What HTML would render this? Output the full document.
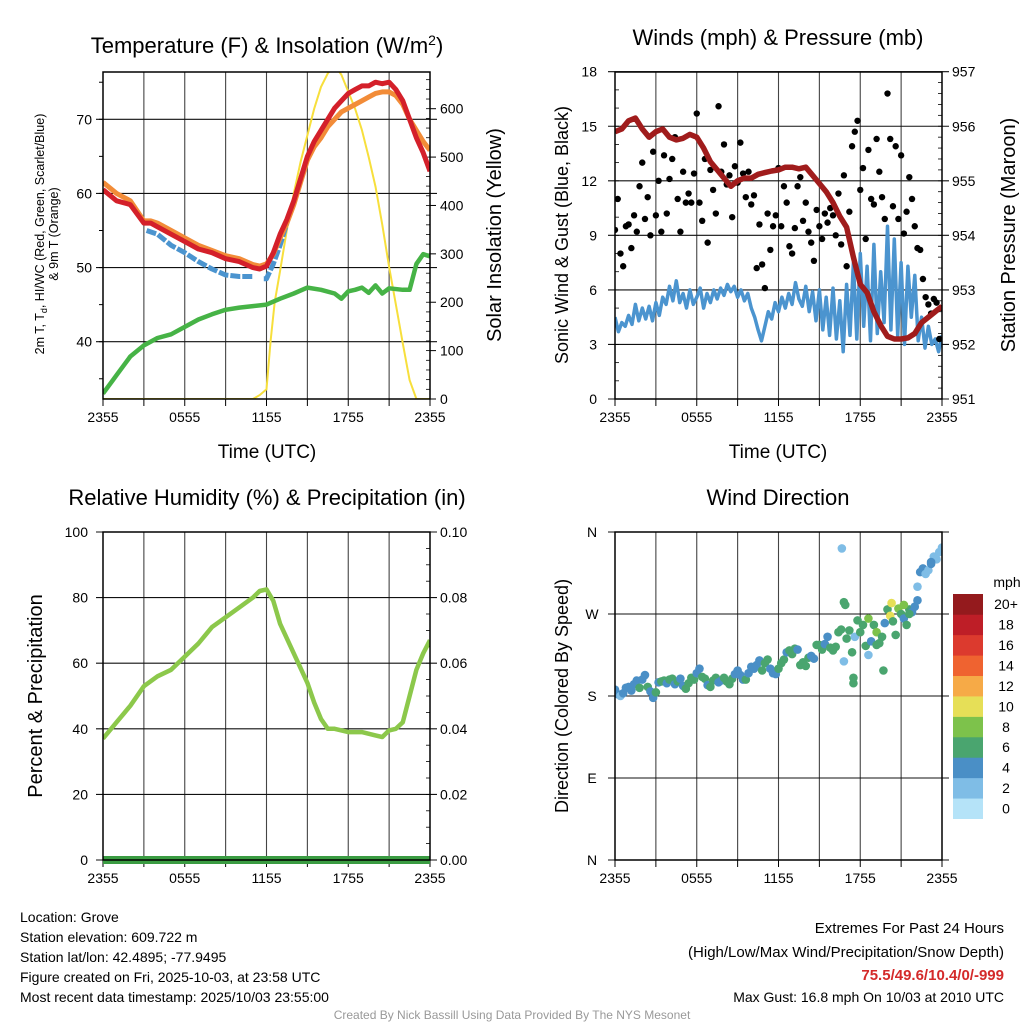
<!DOCTYPE html>
<html><head><meta charset="utf-8"><style>
body{margin:0;background:#fff}
svg text{font-family:"Liberation Sans",Arial,sans-serif}
</style></head><body>
<svg id="chart" width="1024" height="1024" viewBox="0 0 1024 1024" xmlns="http://www.w3.org/2000/svg">
<defs>
<clipPath id="c1"><rect x="103" y="72" width="327" height="327"/></clipPath>
<clipPath id="c2"><rect x="615" y="72" width="327" height="327"/></clipPath>
<clipPath id="c3"><rect x="103" y="532" width="327" height="328"/></clipPath>
<clipPath id="c4"><rect x="615" y="532" width="327" height="328"/></clipPath>
</defs>
</svg>
<script>
// ---------- DATA ----------
const xTickLabels = ["2355","0555","1155","1755","2355"];
const tempTimes = [0,1,2,3,3.5,4,5,6,7,8,9,10,11,11.5,12,12.5,13,13.5,14,14.5,15,15.5,16,16.5,17,17.5,18,18.5,19,19.5,20,20.5,21,21.5,22,22.5,23,23.5,24];
const tempRed = [60.5,59,58.5,56,56,55.5,54.5,53.5,52.5,52,51.2,50.8,50,49.8,50.2,52,54.5,56.5,59,62,65,67,68.5,70,71.5,72.5,73.5,74,74.5,74.5,75,74.8,75,74,72.5,70,67.5,65.5,63];
const tempOrange = [61.5,60,59,56.3,56.3,56,55,54,53,52.3,51.6,51.2,50.4,50.2,50.5,51.8,54,56,58.5,61.5,64.5,66.3,67.5,69,70,71,71.5,72,72.5,73,73.5,73.7,73.7,73.2,72,70,68.5,67,65.8];
const hiTimes = [3.2,4,5,6,7,8,9,10,11,null,11.8,12,12.5,13,13.5];
const hiVals = [55,54.5,53,52,50.8,49.8,49,48.8,48.8,null,48.5,48.5,50.5,53,56];
const dewTimes = [0,1,2,3,4,5,6,7,8,9,10,11,12,13,14,15,16,17,17.5,18,18.5,19,19.5,20,20.5,21,22,22.5,23,23.5,24];
const dewVals = [33,35.5,38,39.5,40.5,41,42,43,43.7,44.3,44.6,44.8,45,45.8,46.5,47.3,47,46.5,45.8,46.8,47,47.3,46.6,47.6,46.5,47.2,47,47,50.5,51.8,51.5];
const solarTimes = [0,11,11.5,12,12.3,12.6,13,13.5,14,14.5,15,15.5,16,16.5,17,17.5,18,18.5,19,19.5,20,20.5,21,21.5,22,22.5,23,24];
const solarVals = [0,0,8,20,120,200,265,350,425,490,545,600,645,673,690,670,635,600,556,500,439,360,273,195,115,39,0,0];
const tempTicks = [40,50,60,70];
const solarTicks = [0,100,200,300,400,500,600];

const windVals = [4.5,3.7,4.2,4.0,4.6,4.1,5.2,4.3,5.0,4.4,
5.1,4.3,5.3,4.6,5.6,5.2,6.2,5.4,6.5,5.3,
5.8,5.0,6.0,5.2,5.6,6.1,5.0,5.8,5.3,6.0,
5.5,6.1,5.7,6.3,5.9,6.2,5.6,6.0,5.4,5.8,
5.0,4.5,3.8,3.2,4.0,4.8,4.4,5.3,4.8,5.6,
5.0,5.8,5.2,6.4,5.5,5.1,6.2,4.8,5.9,4.3,
6.0,3.8,5.6,3.5,6.1,3.3,5.4,2.6,6.3,3.5,
7.5,3.3,8.0,4.0,7.3,3.2,8.5,3.6,7.0,4.2,
9.5,3.8,8.8,3.5,7.5,3.0,7.3,4.5,6.8,3.2,
4.5,2.8,4.0,3.0,3.3,2.6,3.5];
const gustVals = [9.3,11,8,7.3,9.5,9.6,8.3,10.1,9.2,11.7,
13,9.9,11.1,9.0,13.6,10.1,12.0,9.2,13.4,10.2,
12.1,13.2,14.4,11.0,9.2,12.5,10.8,11.3,10.8,12.4,
15.7,10.8,9.8,13.2,8.6,12.6,11.5,10.2,16.1,12.5,
14.0,11.8,12.3,10.0,12.8,11.9,14.1,12.4,11.1,12.5,
10.7,11.2,7.2,9.6,7.4,6.1,10.2,8.2,9.5,10.1,
12.7,9.5,11.7,10.8,8.4,8.0,9.4,11.7,12.2,9.8,
10.8,9.2,8.6,7.6,10.4,9.5,8.8,10.2,9.7,10.5,
10.1,9.0,11.3,8.5,12.3,7.3,10.3,13.9,14.7,15.3,
11.5,12.7,8.8,13.7,11.0,10.7,14.3,12.5,11.1,9.9,
16.8,14.3,10.6,13.9,9.9,13.4,9.1,10.3,12.2,11.0,
9.5,8.3,8.2,6.6,5.6,5.2,4.7,5.5,5.3,3.3,5.0];
const presTimes = [0,0.5,1,1.5,2,2.5,3,3.5,4,4.5,5,5.5,6,6.5,7,7.5,8,8.5,9,9.5,10,10.5,11,11.5,12,12.5,13,13.5,14,14.5,15,15.5,16,16.5,17,17.5,18,18.5,19,19.5,20,20.5,21,21.5,22,22.5,23,23.5,24];
const presVals = [955.9,955.95,956.1,956.15,955.95,955.8,955.9,955.95,955.8,955.75,955.78,955.85,955.8,955.6,955.35,955.2,955.05,954.9,955.0,955.05,955.05,955.12,955.15,955.18,955.2,955.25,955.25,955.22,955.25,955.1,954.95,954.8,954.6,954.35,954.15,953.6,953.1,952.95,952.6,952.35,952.15,952.1,952.1,952.12,952.2,952.4,952.5,952.6,952.7];
const windTicks = [0,3,6,9,12,15,18];
const presTicks = [951,952,953,954,955,956,957];

const rhTimes = [0,1,2,3,4,5,6,7,8,9,10,11,11.5,12,12.5,13,14,15,15.5,16,16.5,17,18,19,20,20.5,21,21.5,22,22.5,23,23.5,24];
const rhVals = [37,42,47,53,56,58,62,66,71,74,77,80,82,82.5,79,72,63,54,48,43,40,40,39,39,38,37.5,39.5,40,42,50,58,63,67];
const precipVals = [0,0];
const rhTicks = [0,20,40,60,80,100];
const precipTicks = ["0.00","0.02","0.04","0.06","0.08","0.10"];

const dirDeg = [187,182,180,183,189,190,186,193,197,189,
198,203,190,185,178,184,195,196,197,194,
198,199,193,196,199,191,188,194,200,198,
205,210,201,199,192,190,197,200,195,197,
200,196,193,199,204,208,203,198,198,205,
212,210,214,219,208,216,220,210,205,204,
210,216,220,228,230,226,232,231,214,217,
213,222,224,221,236,236,231,237,245,233,
230,234,250,253,218,243,252,228,245,263,
250,258,235,265,240,258,250,238,245,260,
275,268,262,247,276,270,265,258,275,272,
278,285,316,320,314,318,325,333,330,338,343];
const dirSpeed = [4,4,3,4,4,4,4,5,4,6,
4,4,6,4,4,6,4,6,6,4,
6,6,4,6,4,4,6,6,6,6,
4,4,6,6,4,6,6,6,4,4,
6,6,6,6,4,4,4,4,6,4,
4,4,4,4,6,6,6,4,4,4,
6,6,6,4,6,6,6,4,6,6,
6,6,4,4,6,6,6,4,4,6,
6,6,6,6,3,6,6,6,3,6,
6,6,6,8,4,6,8,6,6,4,
6,10,6,6,8,6,4,6,6,4,
4,4,4,4,3,3,4,3,3,3,3];
const extraTimes = [16.65,16.8,16.9,17.5,17.5,18.6,19.2,19.7,20.3,21.2,21.6,22.2,23.2];
const extraDeg = [342,283,280,194,200,225,236,208,282,280,270,300,327];
const extraSpeed = [2,6,6,6,6,3,6,6,10,8,6,3,4];
const dirTicks = ["N","E","S","W","N"];
const cbLabels = ["0","2","4","6","8","10","12","14","16","18","20+"];
const cbColors = ["#b5e3f8","#7fbde6","#4a8fc6","#4aa56f","#7dc24b","#e6df57","#f6aa47","#ef6330","#dc3a2e","#be1e27","#941a1d"];

// ---------- HELPERS ----------
const svg = document.getElementById('chart');
const NS = "http://www.w3.org/2000/svg";
function el(tag, attrs, parent){ const e=document.createElementNS(NS,tag); for(const k in attrs) e.setAttribute(k,attrs[k]); (parent||svg).appendChild(e); return e; }
function lin(d0,d1,r0,r1){ return v => r0 + (v-d0)*(r1-r0)/(d1-d0); }
function txt(x,y,s,size,anchor,extra){ const t=el('text',Object.assign({x:x,y:y,'font-size':size,'text-anchor':anchor||'middle',fill:'#000'},extra||{})); t.textContent=s; return t; }
function pathFrom(xs,ys,xf,yf){ let d="",pen=false; for(let i=0;i<xs.length;i++){ if(xs[i]===null||ys[i]===null){pen=false;continue;} d+=(pen?"L":"M")+xf(xs[i]).toFixed(1)+","+yf(ys[i]).toFixed(1); pen=true;} return d; }

function panel(name,X0,X1,Y0,Y1){
  const g = el('g',{});
  
  
  const xs = lin(0,24,X0,X1);
  for(let h=3;h<24;h+=3){ const l=el('line',{x1:xs(h),x2:xs(h),y1:Y0,y2:Y1,stroke:'#444','stroke-width':1.1},g);   }
  for(let h=0;h<=24;h+=3){ el('line',{x1:xs(h),x2:xs(h),y1:Y1,y2:Y1+7,stroke:'#000','stroke-width':1},g); }
  xTickLabels.forEach((s,i)=>{ const t=txt(xs(i*6),Y1+23,s,14,'middle',{}); g.appendChild(t);   });
  return {g,xs};
}
function hgrid(g,X0,X1,y){ const l=el('line',{x1:X0-7,x2:X1+7,y1:y,y2:y,stroke:'#111','stroke-width':1.1},g);   }
function frame(g,X0,X1,Y0,Y1){ const r=el('rect',{x:X0,y:Y0,width:X1-X0,height:Y1-Y0,fill:'none',stroke:'#000','stroke-width':1.5},g);   }

// ---------- PANEL 1 ----------
{
  const X0=103,X1=430,Y0=72,Y1=399;
  const {g,xs} = panel('temperature-panel',X0,X1,Y0,Y1);
  const yT = lin(40,70,341.7,119.3);
  const yS = lin(0,600,399,108.7);
  tempTicks.forEach(v=>{ hgrid(g,X0,X1,yT(v)); const t=txt(92,yT(v)+5,String(v),14,'end');   });
  for(let v=35;v<=75;v+=5) el('line',{x1:X0-4,x2:X0,y1:yT(v),y2:yT(v),stroke:'#000'},g);
  solarTicks.forEach(v=>{ el('line',{x1:X1,x2:X1+6,y1:yS(v),y2:yS(v),stroke:'#000'},g); const t=txt(440,yS(v)+5,String(v),14,'start');   });
  for(let v=20;v<=660;v+=20) el('line',{x1:X1-4,x2:X1,y1:yS(v),y2:yS(v),stroke:'#000','stroke-width':0.8},g);
  const cg = el('g',{'clip-path':'url(#c1)'},g);
  const sol = el('path',{d:pathFrom(solarTimes,solarVals,xs,yS),fill:'none',stroke:'#f7df3c','stroke-width':2},cg);
   
  const dew = el('path',{d:pathFrom(dewTimes,dewVals,xs,yT),fill:'none',stroke:'#46b346','stroke-width':4.5,'stroke-linejoin':'round'},cg);
   
  const hi = el('path',{d:pathFrom(hiTimes,hiVals,xs,yT),fill:'none',stroke:'#4b94cf','stroke-width':5,'stroke-dasharray':'10 2','stroke-linejoin':'round'},cg);
   
  const or = el('path',{d:pathFrom(tempTimes,tempOrange,xs,yT),fill:'none',stroke:'#f28c38','stroke-width':5,'stroke-linejoin':'round'},cg);
   
  const rd = el('path',{d:pathFrom(tempTimes,tempRed,xs,yT),fill:'none',stroke:'#d4202a','stroke-width':5,'stroke-linejoin':'round'},cg);
   
  frame(g,X0,X1,Y0,Y1);
  const t1=txt(267,53,'',22,'middle'); t1.innerHTML='Temperature (F) &amp; Insolation (W/m<tspan dy="-8" font-size="14">2</tspan><tspan dy="8">)</tspan>';
   
  const xl=txt(267,458,'Time (UTC)',19,'middle');  
  const yl=el('text',{transform:'translate(44,234) rotate(-90)','font-size':12.5,'text-anchor':'middle',fill:'#000'});
  yl.innerHTML='2m T, T<tspan font-size="9" dy="3">d</tspan><tspan dy="-3">, HI/WC (Red, Green, Scarlet/Blue)</tspan>';
   
  const yl2=txt(0,0,'& 9m T (Orange)',12.5,'middle',{transform:'translate(58,234) rotate(-90)'});
   
  const yr=txt(0,0,'Solar Insolation (Yellow)',20,'middle',{transform:'translate(501,235) rotate(-90)'});
   
}

// ---------- PANEL 2 ----------
{
  const X0=615,X1=942,Y0=72,Y1=399;
  const {g,xs} = panel('wind-pressure-panel',X0,X1,Y0,Y1);
  const yW = lin(0,18,399,71.7);
  const yP = lin(951,957,399,71.7);
  windTicks.forEach(v=>{ hgrid(g,X0,X1,yW(v)); const t=txt(597,yW(v)+5,String(v),14,'end');   });
  for(let v=1;v<18;v++) el('line',{x1:X0,x2:X0+4,y1:yW(v),y2:yW(v),stroke:'#000','stroke-width':0.8},g);
  presTicks.forEach(v=>{ const t=txt(952,yP(v)+5,String(v),14,'start');   });
  for(let v=951.2;v<957;v+=0.2) el('line',{x1:X1-4,x2:X1,y1:yP(v),y2:yP(v),stroke:'#000','stroke-width':0.8},g);
  const cg = el('g',{'clip-path':'url(#c2)'},g);
  const wt = windVals.map((v,i)=>i*0.25);
  const w = el('path',{d:pathFrom(wt,windVals,xs,yW),fill:'none',stroke:'#4b94cf','stroke-width':3.5,'stroke-linejoin':'round'},cg);
   
  gustVals.forEach((v,i)=>{ const c=el('circle',{cx:xs(i*0.2),cy:yW(v),r:3.2,fill:'#000'},cg);
      });
  const p = el('path',{d:pathFrom(presTimes,presVals,xs,yP),fill:'none',stroke:'#a01c1c','stroke-width':5.5,'stroke-linejoin':'round'},cg);
   
  frame(g,X0,X1,Y0,Y1);
  const t=txt(778,45,'Winds (mph) & Pressure (mb)',22,'middle');  
  const xl=txt(778,458,'Time (UTC)',19,'middle');  
  const yl=txt(0,0,'Sonic Wind & Gust (Blue, Black)',18,'middle',{transform:'translate(568,235) rotate(-90)'});  
  const yr=txt(0,0,'Station Pressure (Maroon)',20,'middle',{transform:'translate(1015,235) rotate(-90)'});  
}

// ---------- PANEL 3 ----------
{
  const X0=103,X1=430,Y0=532,Y1=860;
  const {g,xs} = panel('humidity-panel',X0,X1,Y0,Y1);
  const yR = lin(0,100,860,532);
  rhTicks.forEach((v,i)=>{ hgrid(g,X0,X1,yR(v)); const t=txt(88,yR(v)+5,String(v),14,'end');  
    const r=txt(440,yR(v)+5,precipTicks[i],14,'start');   });
  for(let v=5;v<100;v+=5) el('line',{x1:X1-4,x2:X1,y1:yR(v),y2:yR(v),stroke:'#000','stroke-width':0.8},g);
  const cg = el('g',{'clip-path':'url(#c3)'},g);
  const rh = el('path',{d:pathFrom(rhTimes,rhVals,xs,yR),fill:'none',stroke:'#8cc84b','stroke-width':4.5,'stroke-linejoin':'round'},cg);
   
  const yPr = lin(0,0.10,860,532);
  const pr = el('path',{d:pathFrom([0,24],precipVals,xs,yPr),fill:'none',stroke:'#3a9c42','stroke-width':8},g);
   
  frame(g,X0,X1,Y0,Y1);
  const t=txt(267,505,'Relative Humidity (%) & Precipitation (in)',22,'middle');  
  const yl=txt(0,0,'Percent & Precipitation',20,'middle',{transform:'translate(42,696) rotate(-90)'});  
}

// ---------- PANEL 4 ----------
{
  const X0=615,X1=942,Y0=532,Y1=860;
  const {g,xs} = panel('wind-direction-panel',X0,X1,Y0,Y1);
  const yD = lin(0,360,860,532);
  dirTicks.forEach((s,i)=>{ hgrid(g,X0,X1,yD(i*90)); const t=txt(592,yD(i*90)+5,s,14,'middle');   });
  const cg = el('g',{'clip-path':'url(#c4)'},g);
  const col = s => cbColors[Math.min(10,Math.floor(s/2))];
  dirDeg.forEach((d,i)=>{ const c=el('circle',{cx:xs(i*0.2),cy:yD(d),r:4.3,fill:col(dirSpeed[i])},cg);
      });
  extraDeg.forEach((d,i)=>{ const c=el('circle',{cx:xs(extraTimes[i]),cy:yD(d),r:4.3,fill:col(extraSpeed[i])},cg);
      });
  frame(g,X0,X1,Y0,Y1);
  const t=txt(778,505,'Wind Direction',22,'middle');  
  const yl=txt(0,0,'Direction (Colored By Speed)',18,'middle',{transform:'translate(568,696) rotate(-90)'});  
  const cb = el('g',{});
   
  const h=(818.7-594)/11;
  cbColors.forEach((c,i)=>{ const r=el('rect',{x:953,y:818.7-(i+1)*h,width:30,height:h+0.3,fill:c},cb);
     
    const t=txt(1006,818.7-(i+0.5)*h+5,cbLabels[i],14,'middle');   });
  const m=txt(1007,587,'mph',14,'middle');  
}

// ---------- FOOTER ----------
const left = ["Location: Grove","Station elevation: 609.722 m","Station lat/lon: 42.4895; -77.9495","Figure created on Fri, 2025-10-03, at 23:58 UTC","Most recent data timestamp: 2025/10/03 23:55:00"];
left.forEach((s,i)=>{ const t=txt(20,922+i*20,s,14,'start');   });
const r1=txt(1004,933,'Extremes For Past 24 Hours',15,'end');  
const r2=txt(1004,957,'(High/Low/Max Wind/Precipitation/Snow Depth)',15,'end');  
const r3=txt(1004,980,'75.5/49.6/10.4/0/-999',15,'end',{fill:'#d42a2a','font-weight':'bold'});  
const r4=txt(1004,1002,'Max Gust: 16.8 mph On 10/03 at 2010 UTC',14,'end');  
const cr=txt(512,1019,'Created By Nick Bassill Using Data Provided By The NYS Mesonet',12,'middle',{fill:'#999'});  
</script>
</body></html>
